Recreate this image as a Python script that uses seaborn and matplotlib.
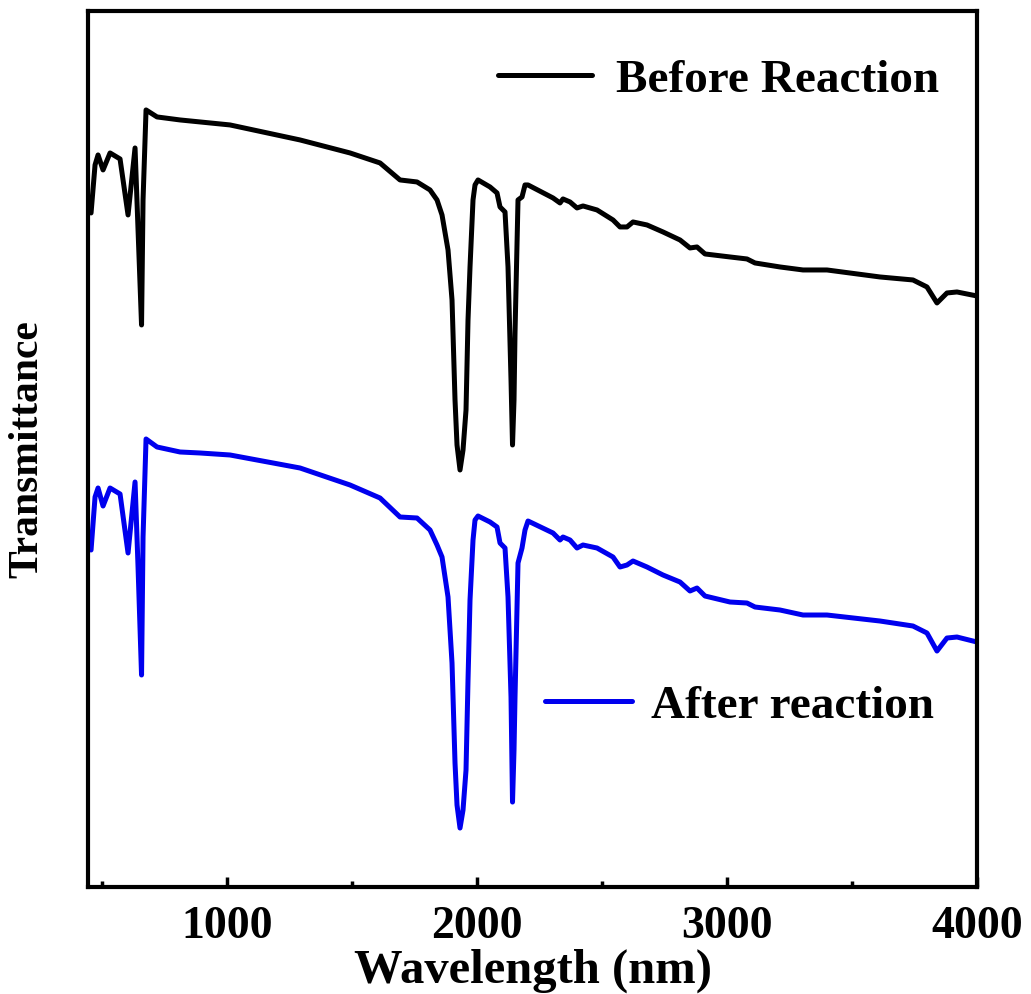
import numpy as np
import pandas as pd
import seaborn as sns
import matplotlib.pyplot as plt
from matplotlib.ticker import MultipleLocator

sns.set_style("ticks")
plt.rcParams["font.family"] = ["Liberation Serif", "DejaVu Serif"]
plt.rcParams["font.weight"] = "bold"
plt.rcParams["text.color"] = "black"
plt.rcParams["axes.labelcolor"] = "black"
plt.rcParams["xtick.color"] = "black"

# Wavelength grid (nm)
wavelength = [456, 472, 484, 504, 532, 572, 604, 632, 644, 658,
              664, 676, 720, 812, 892, 1012, 1292, 1492, 1612, 1692,
              1760, 1812, 1840, 1860, 1884, 1900, 1912, 1920, 1932, 1944,
              1956, 1964, 1972, 1984, 1992, 2004, 2052, 2080, 2092, 2112,
              2124, 2136, 2142, 2148, 2152, 2164, 2180, 2192, 2204, 2304,
              2332, 2344, 2372, 2400, 2424, 2480, 2544, 2572, 2600, 2624,
              2680, 2744, 2812, 2852, 2880, 2912, 3012, 3080, 3112, 3212,
              3304, 3400, 3612, 3744, 3800, 3840, 3880, 3920, 4000]

# Transmittance (a.u., curves offset as in the figure)
before = [68.7, 73.5, 74.5, 73.0, 74.7, 74.1, 68.5, 75.2, 67.0, 57.5,
          70.0, 79.0, 78.3, 78.0, 77.8, 77.5, 76.0, 74.7, 73.7, 72.0,
          71.8, 71.0, 70.0, 68.5, 65.0, 60.0, 50.0, 45.5, 43.0, 45.0,
          49.0, 58.0, 63.3, 70.0, 71.5, 72.0, 71.3, 70.7, 69.3, 68.8,
          63.3, 52.0, 45.5, 50.0, 56.7, 70.0, 70.3, 71.5, 71.5, 70.2,
          69.7, 70.1, 69.8, 69.2, 69.4, 69.0, 68.0, 67.3, 67.3, 67.8,
          67.5, 66.8, 66.0, 65.2, 65.3, 64.6, 64.3, 64.1, 63.7, 63.3,
          63.0, 63.0, 62.3, 62.0, 61.3, 59.7, 60.7, 60.8, 60.4]

after = [35.0, 40.3, 41.2, 39.4, 41.2, 40.6, 34.7, 41.8, 33.3, 22.5,
         36.3, 46.1, 45.3, 44.8, 44.7, 44.5, 43.2, 41.5, 40.2, 38.3,
         38.2, 37.0, 35.5, 34.3, 30.3, 23.7, 13.7, 9.5, 7.2, 9.0,
         13.0, 22.0, 30.0, 36.0, 38.0, 38.4, 37.8, 37.3, 35.7, 35.2,
         30.3, 20.3, 9.8, 15.0, 20.3, 33.7, 35.2, 37.0, 37.9, 36.7,
         36.0, 36.3, 36.0, 35.2, 35.5, 35.2, 34.3, 33.3, 33.5, 33.9,
         33.3, 32.5, 31.8, 30.9, 31.2, 30.4, 29.8, 29.7, 29.3, 29.0,
         28.5, 28.5, 27.9, 27.4, 26.7, 24.9, 26.2, 26.3, 25.8]

labels = ["Before Reaction", "After reaction"]
colors = {"Before Reaction": "black", "After reaction": "#0000ee"}

df = pd.concat([
    pd.DataFrame({"wl": wavelength, "T": before, "sample": labels[0]}),
    pd.DataFrame({"wl": wavelength, "T": after, "sample": labels[1]}),
])

fig = plt.figure(figsize=(10.31, 9.94), dpi=100)
ax = fig.add_axes([0.0854, 0.1076, 0.8622, 0.8814])

sns.lineplot(data=df, x="wl", y="T", hue="sample", palette=colors,
             estimator=None, sort=False, linewidth=3.6, legend=False, ax=ax,
             solid_joinstyle="round", solid_capstyle="round")

ax.set_xlim(444, 4000)
ax.set_ylim(1.3, 88.9)
ax.set_yticks([])
ax.xaxis.set_major_locator(MultipleLocator(1000))
ax.xaxis.set_minor_locator(MultipleLocator(500))
ax.tick_params(axis="x", which="both", direction="in", top=False, width=2.5,
               labelsize=33, pad=14)
ax.tick_params(axis="x", which="major", length=7)
ax.tick_params(axis="x", which="minor", length=4)
for lab in ax.get_xticklabels():
    lab.set_fontweight("bold")
for s in ax.spines.values():
    s.set_linewidth(3)
    s.set_color("black")

ax.set_xlabel("Wavelength (nm)", fontsize=35, fontweight="bold", labelpad=0)
ax.set_ylabel("Transmittance", fontsize=30, fontweight="bold", labelpad=30)

lines = ax.get_lines()
leg1 = ax.legend([lines[0]], [labels[0]], loc="center left",
                 bbox_to_anchor=(0.461, 0.921), frameon=False, borderpad=0,
                 borderaxespad=0, handlelength=2.0, handletextpad=0.5,
                 prop={"size": 34, "weight": "bold"})
ax.add_artist(leg1)
ax.legend([lines[1]], [labels[1]], loc="center left",
          bbox_to_anchor=(0.514, 0.2066), frameon=False, borderpad=0,
          borderaxespad=0, handlelength=1.85, handletextpad=0.4,
          prop={"size": 34, "weight": "bold"})

plt.savefig("out.png", dpi=100)
